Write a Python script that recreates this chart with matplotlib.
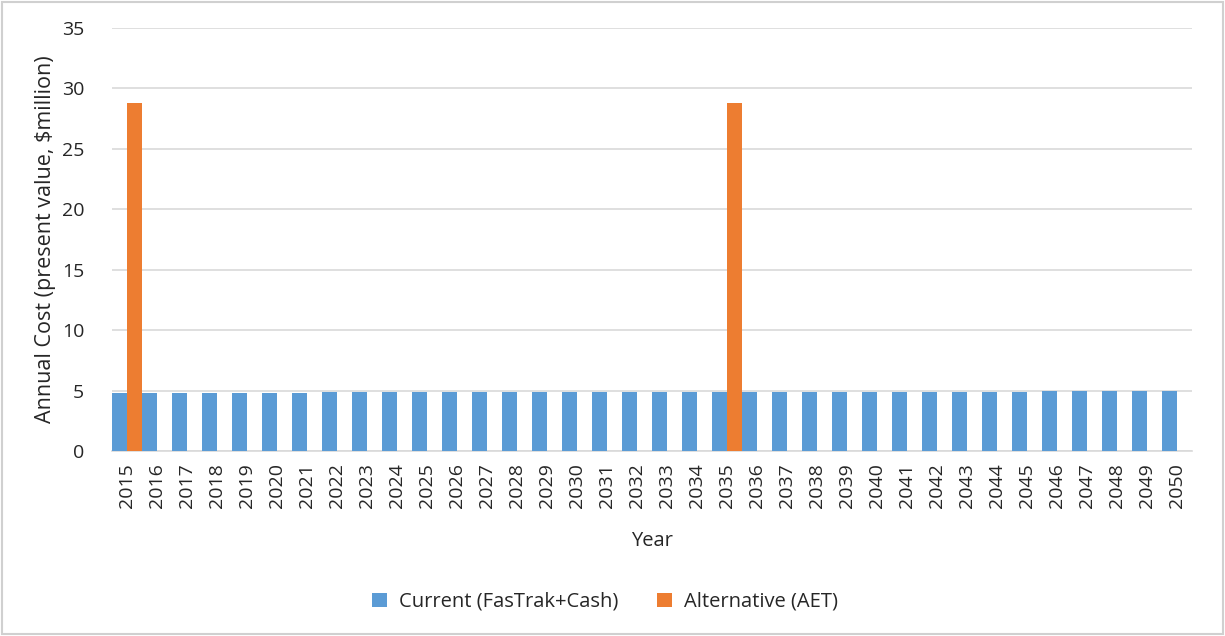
import numpy as np
import matplotlib
matplotlib.use("Agg")
import matplotlib.pyplot as plt
from matplotlib.patches import Rectangle

plt.rcParams["font.family"] = ["Open Sans", "DejaVu Sans"]

years = list(range(2015, 2051))
current = [4.78] * 7 + [4.85] * 12 + [4.92] * 12 + [5.0] * 5
alternative = [0.0] * 36
alternative[0] = 28.8    # 2015
alternative[20] = 28.8   # 2035

blue = "#5b9bd5"
orange = "#ed7d31"
grid_col = "#d9d9d9"
text_col = "#262626"

fig = plt.figure(figsize=(12.25, 6.36), dpi=100)
ax = fig.add_axes([112 / 1225, 1 - 451 / 636, 1080 / 1225, 423 / 636])

x = np.arange(len(years))
w = 0.5
ax.bar(x - w / 2, current, width=w, color=blue, label="Current (FasTrak+Cash)", zorder=3)
ax.bar(x + w / 2, alternative, width=w, color=orange, label="Alternative (AET)", zorder=3)

ax.set_xlim(-0.5, len(years) - 0.5)
ax.set_ylim(0, 35)
ax.set_yticks(range(0, 36, 5))
ax.set_xticks(x)
ax.set_xticklabels([str(y) for y in years], rotation=90)
ax.tick_params(axis="both", length=0, labelsize=14, colors=text_col)
ax.tick_params(axis="y", pad=20)
ax.tick_params(axis="x", pad=9)

ax.yaxis.grid(True, color=grid_col, linewidth=1.2, zorder=0)
for s in ["top", "right", "left"]:
    ax.spines[s].set_visible(False)
ax.spines["bottom"].set_color(grid_col)
ax.spines["bottom"].set_linewidth(1.2)

ax.set_ylabel("Annual Cost (present value, $million)", fontsize=15.5, color=text_col, labelpad=4)
ax.set_xlabel("Year", fontsize=14.5, color=text_col, labelpad=16)

fig.legend(loc="center", bbox_to_anchor=(605 / 1225, 1 - 602 / 636), ncol=2,
           frameon=False, fontsize=14.5, handlelength=0.75, handleheight=0.75,
           columnspacing=1.9, handletextpad=0.6, labelcolor=text_col)

# chart border
fig.patches.append(Rectangle((0.002, 0.003), 0.996, 0.994, transform=fig.transFigure,
                             fill=False, edgecolor="#d0d0d0", linewidth=1.5))

fig.savefig("out.png", dpi=100)
